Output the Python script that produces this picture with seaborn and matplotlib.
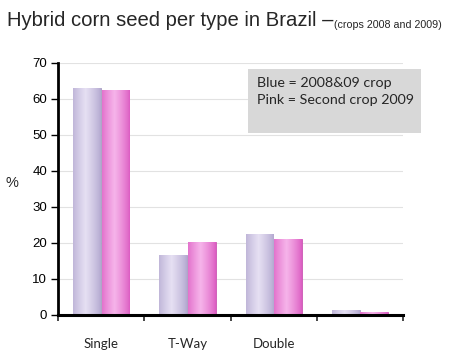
import numpy as np
import pandas as pd
import matplotlib
matplotlib.use("Agg")
import matplotlib.pyplot as plt
import seaborn as sns

# data
categories = ["Single", "T-Way", "Double", "Other"]
tick_labels = ["Single", "T-Way", "Double", ""]
crop_2008_09 = [63.0, 16.7, 22.4, 1.3]
second_crop_2009 = [62.4, 20.1, 20.9, 0.8]
series_names = ["2008&09 crop", "Second crop 2009"]

df = pd.DataFrame({
    "type": categories * 2,
    "pct": crop_2008_09 + second_crop_2009,
    "crop": [series_names[0]] * 4 + [series_names[1]] * 4,
})

sns.set_style("white")
plt.rcParams["font.family"] = ["Liberation Sans", "DejaVu Sans"]

fig = plt.figure(figsize=(4.5, 3.57), dpi=100)
ax = fig.add_axes([0.129, 0.1185, 0.767, 0.706])

palette = {series_names[0]: "#c9bfe0", series_names[1]: "#e878d2"}
# edge / centre colours for the cylinder shading
shades = {
    "#c9bfe0": ("#b3a8d0", "#e6e0f3"),
    "#e878d2": ("#dc5cc2", "#f6b4ea"),
}
sns.barplot(data=df, x="type", y="pct", hue="crop", order=categories,
            hue_order=series_names, palette=palette, saturation=1,
            width=0.66, gap=0.03, edgecolor="none", legend=False, ax=ax)

t = np.linspace(0, 1, 60)
profile = np.clip(1 - np.abs(t - 0.45) / 0.55, 0, 1) ** 0.8
for bar in ax.patches:
    x0, w, h = bar.get_x(), bar.get_width(), bar.get_height()
    key = matplotlib.colors.to_hex(bar.get_facecolor())
    dark, light = shades.get(key, (key, key))
    dark = np.array(matplotlib.colors.to_rgb(dark))
    light = np.array(matplotlib.colors.to_rgb(light))
    img = dark[None, None, :] + (light - dark)[None, None, :] * profile[None, :, None]
    im = ax.imshow(img, extent=[x0, x0 + w, 0, h], aspect="auto", zorder=2)
    im.set_clip_path(bar)
    bar.set_edgecolor(dark * 0.92)
    bar.set_linewidth(0.6)

ax.set_xlim(-0.5, 3.5)
ax.set_ylim(0, 70)
ax.set_yticks(range(0, 71, 10))
ax.tick_params(axis="y", labelsize=9.5, length=5, width=1, direction="out",
               left=True, colors="black", pad=3)
ax.set_xticks(range(4))
ax.set_xticklabels(tick_labels, fontsize=9.5, family=["Lato", "DejaVu Sans"])
ax.tick_params(axis="x", length=0, pad=17)
ax.set_xticks(np.arange(-0.5, 4, 1), minor=True)
ax.tick_params(axis="x", which="minor", length=4, width=1.2, direction="out",
               bottom=True)
ax.set_xlabel("")
ax.set_ylabel("")
ax.yaxis.grid(True, color="#e2e2e2", linewidth=0.8)
ax.set_axisbelow(True)
for side in ["top", "right"]:
    ax.spines[side].set_visible(False)
ax.spines["left"].set_linewidth(2)
ax.spines["bottom"].set_linewidth(2.2)
ax.spines["left"].set_color("black")
ax.spines["bottom"].set_color("black")

fig.text(12 / 450, 1 - 183 / 357, "%", fontsize=10.5, ha="center", va="center")

title = fig.text(7 / 450, 1 - 26 / 357, "Hybrid corn seed per type in Brazil \u2013",
                 fontsize=14.6, ha="left", va="baseline")
ax.annotate("(crops 2008 and 2009)", xy=(1, 0), xycoords=title,
            xytext=(0.5, 0), textcoords="offset points", fontsize=7.7,
            ha="left", va="bottom")

# note box
fig.patches.append(plt.Rectangle((248 / 450, 1 - 133 / 357), 173 / 450, 64 / 357,
                                 transform=fig.transFigure, facecolor="#d8d8d8",
                                 edgecolor="none", zorder=3))
fig.text(257 / 450, 1 - 83 / 357, "Blue = 2008&09 crop", fontsize=10.3,
         family=["Lato", "DejaVu Sans"], va="center", zorder=4)
fig.text(257 / 450, 1 - 100 / 357, "Pink = Second crop 2009", fontsize=10.3,
         family=["Lato", "DejaVu Sans"], va="center", zorder=4)

fig.savefig("out.png", dpi=100)
